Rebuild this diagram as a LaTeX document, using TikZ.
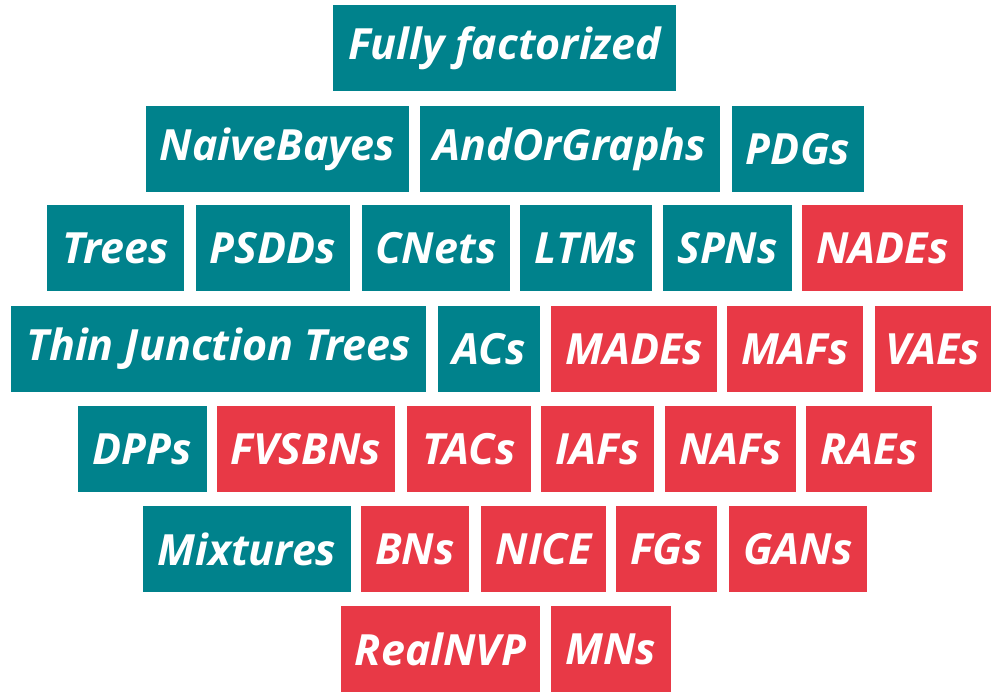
\documentclass[tikz,border=0pt]{standalone}
\usepackage{fontspec}
\setmainfont{Open Sans}
\usepackage{tikz}
\usetikzlibrary{positioning}

\definecolor{tealbox}{RGB}{0,130,140}
\definecolor{redbox}{RGB}{232,57,70}

\tikzset{
  model/.style={inner sep=0pt, minimum height=86pt, text=white,
    font=\fontsize{43}{47}\selectfont\bfseries\itshape},
  tbox/.style={model, fill=tealbox},
  rbox/.style={model, fill=redbox}
}

\begin{document}
\begin{tikzpicture}[x=1pt,y=-1pt]
\useasboundingbox (0,0) rectangle (991,692);
%%% row 1
\node[tbox, minimum width=343pt] (full) at (504.5,48) {Fully factorized};
%%% row 2
\node[tbox, minimum width=263pt] (naive) at (277.5,149) {NaiveBayes};
\node[tbox, minimum width=300pt] (andor) at (570,149) {AndOrGraphs};
\node[tbox, minimum width=132pt] (pdg) at (798,149) {PDGs};
%%% row 3
\node[tbox, minimum width=137pt] (trees) at (115.5,248) {Trees};
\node[tbox, minimum width=154pt] (psdd) at (273,248) {PSDDs};
\node[tbox, minimum width=148pt] (cnet) at (436,248) {CNets};
\node[tbox, minimum width=132pt] (ltm) at (586,248) {LTMs};
\node[tbox, minimum width=129pt] (spn) at (727.5,248) {SPNs};
\node[rbox, minimum width=161pt] (nade) at (882.5,248) {NADEs};
%%% row 4
\node[tbox, minimum width=415pt] (thin) at (218.5,349) {Thin Junction Trees};
\node[tbox, minimum width=102pt] (ac) at (489,349) {ACs};
\node[rbox, minimum width=166pt] (made) at (634,349) {MADEs};
\node[rbox, minimum width=136pt] (maf) at (795,349) {MAFs};
\node[rbox, minimum width=116pt] (vae) at (933,349) {VAEs};
%%% row 5
\node[tbox, minimum width=129pt] (dpp) at (142.5,449) {DPPs};
\node[rbox, minimum width=178pt] (fvsbn) at (306,449) {FVSBNs};
\node[rbox, minimum width=124pt] (tac) at (469,449) {TACs};
\node[rbox, minimum width=113pt] (iaf) at (597.5,449) {IAFs};
\node[rbox, minimum width=131pt] (naf) at (730.5,449) {NAFs};
\node[rbox, minimum width=126pt] (rae) at (869,449) {RAEs};
%%% row 6
\node[tbox, minimum width=208pt] (mix) at (247,549) {Mixtures};
\node[rbox, minimum width=108pt] (bn) at (415,549) {BNs};
\node[rbox, minimum width=125pt] (nice) at (543.5,549) {NICE};
\node[rbox, minimum width=101pt] (fg) at (666.5,549) {FGs};
\node[rbox, minimum width=138pt] (gan) at (798,549) {GANs};
%%% row 7
\node[rbox, minimum width=199pt] (nvp) at (440.5,649) {RealNVP};
\node[rbox, minimum width=120pt] (mn) at (611,649) {MNs};
\end{tikzpicture}
\end{document}
